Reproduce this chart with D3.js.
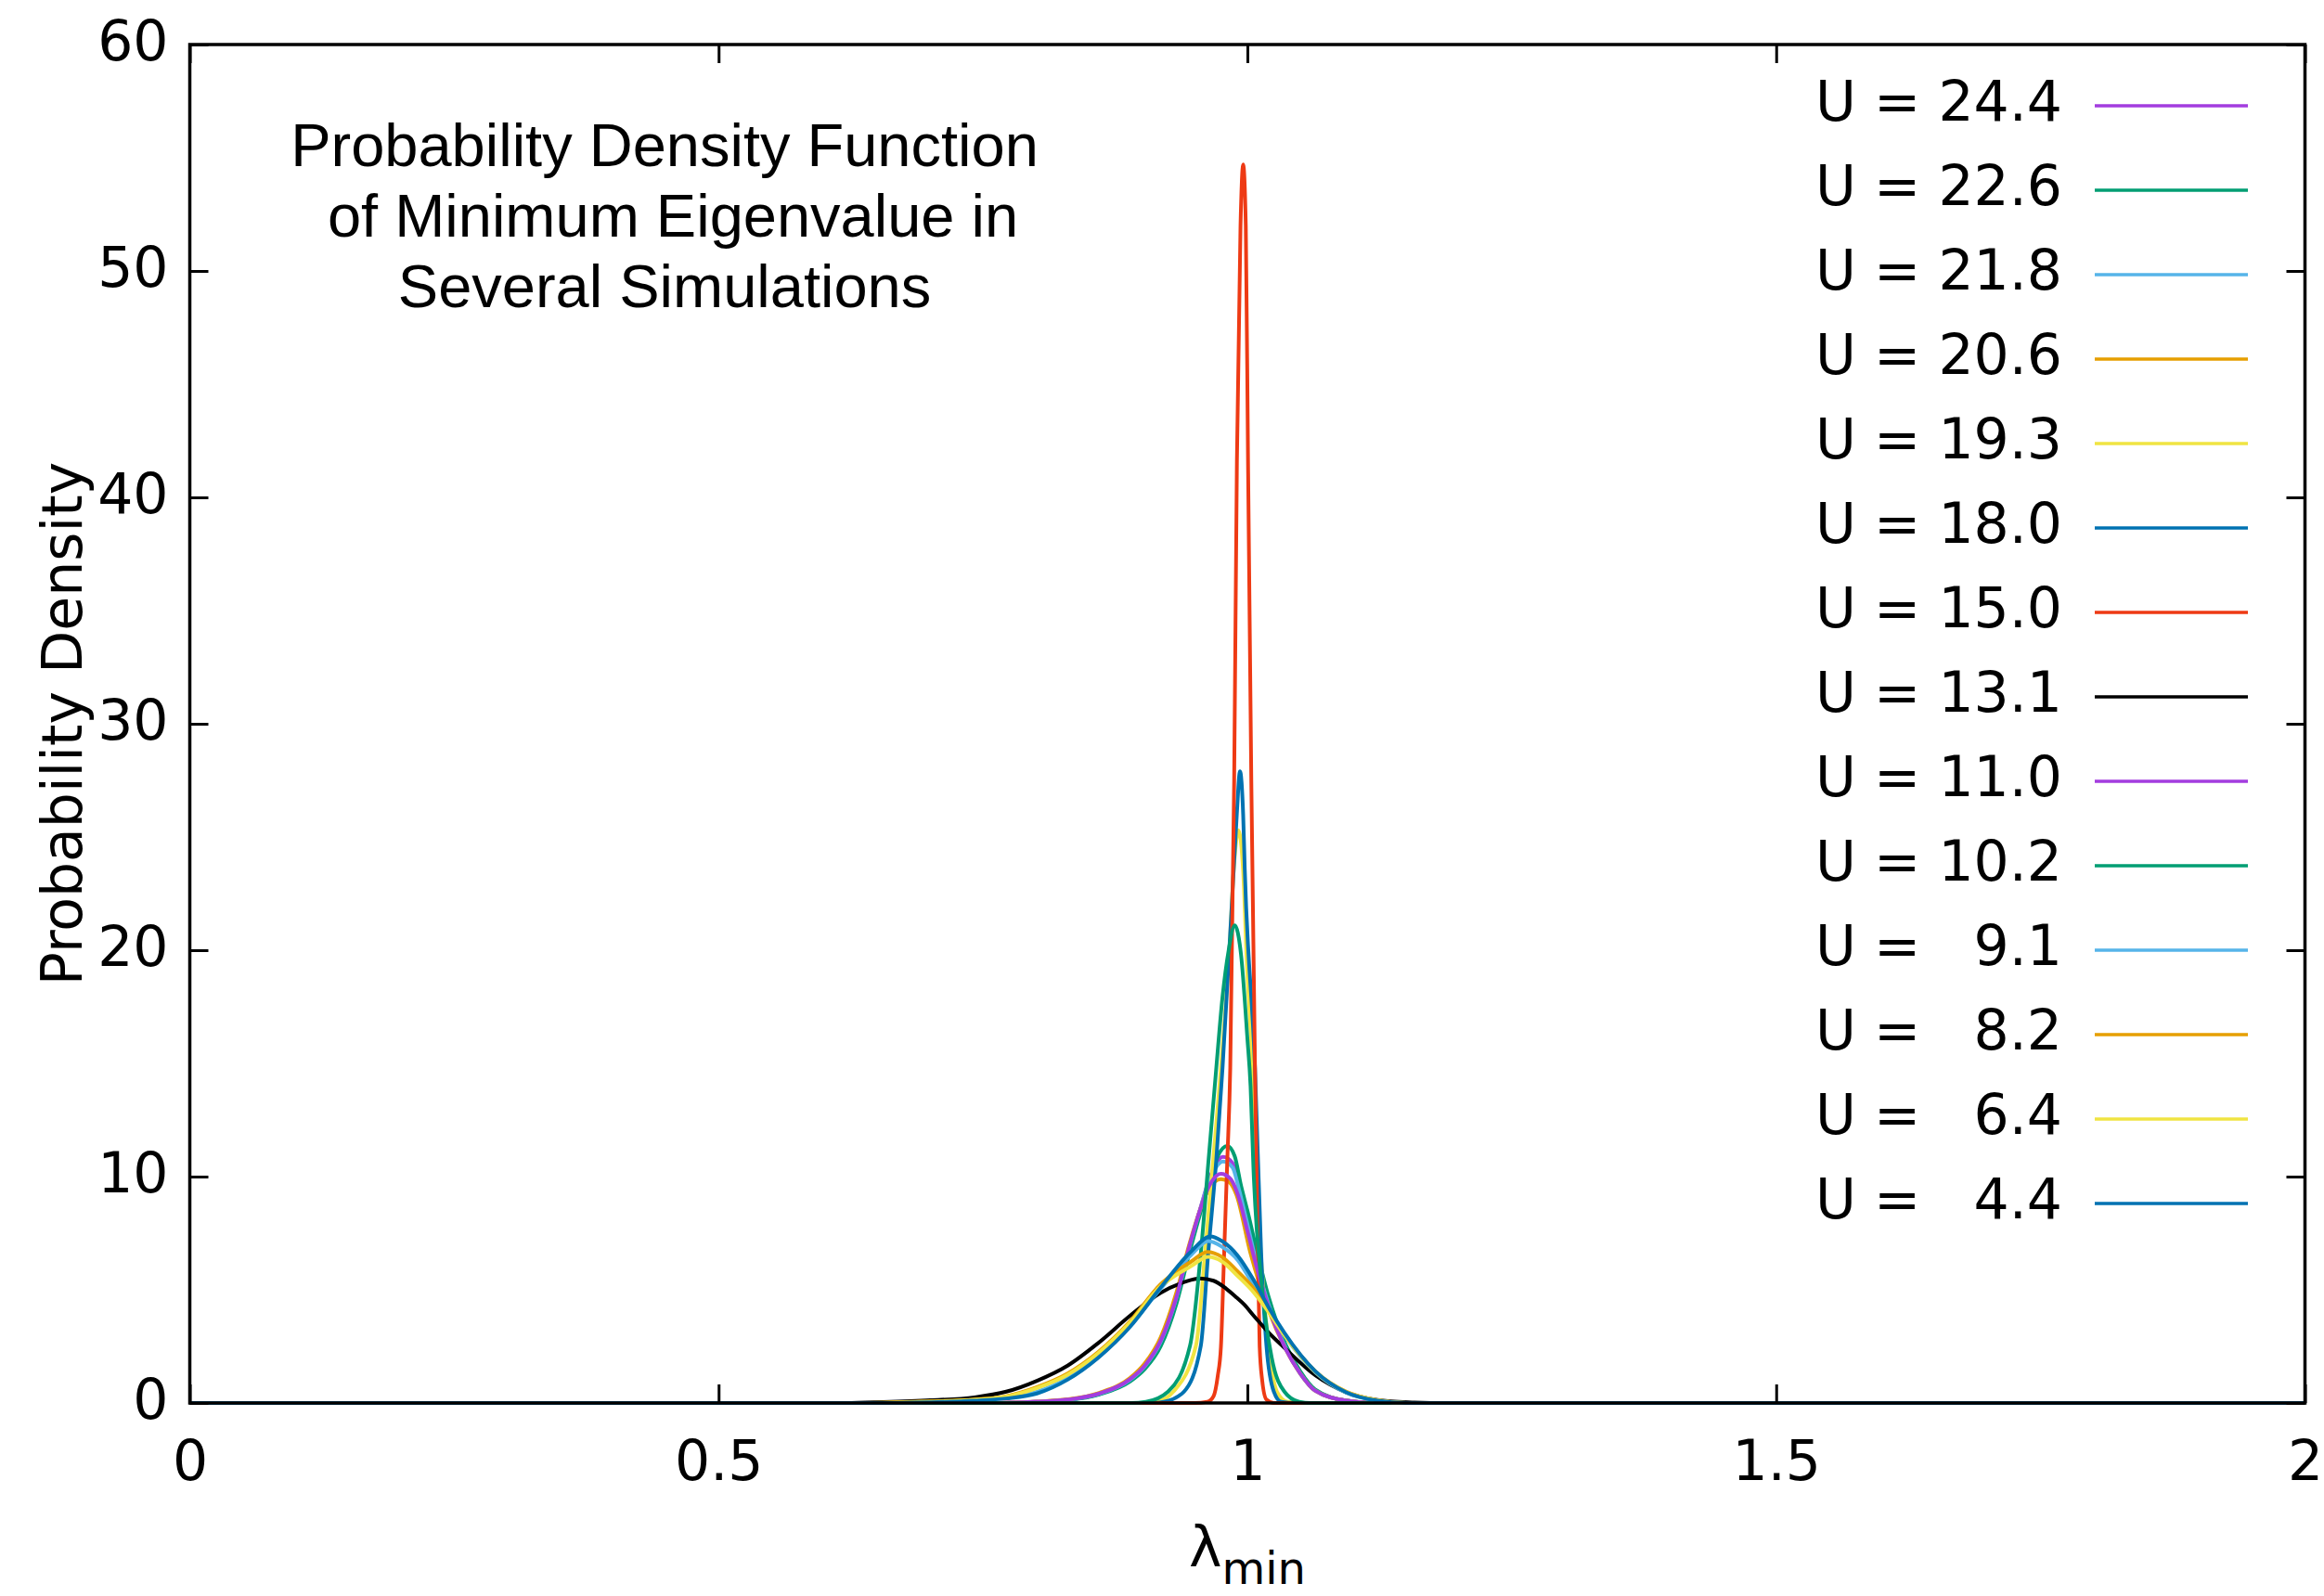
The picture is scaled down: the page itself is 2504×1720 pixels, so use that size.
<!DOCTYPE html>
<html>
<head>
<meta charset="utf-8">
<script src="https://cdn.jsdelivr.net/npm/d3@7"></script>
<style>
  body { margin: 0; background: #fff; }
</style>
</head>
<body>
<svg id="chart" width="2504" height="1720"></svg>
<script>
// U values of the simulations, legend order (top to bottom)
var uValues = [24.4, 22.6, 21.8, 20.6, 19.3, 18.0, 15.0, 13.1, 11.0, 10.2, 9.1, 8.2, 6.4, 4.4];

// density curves [lambda_min, pdf]
var u244 = [[0,0],[0.76,0],[0.80,0.05],[0.83,0.14],[0.86,0.40],[0.889,1.0],[0.903,1.6],[0.918,2.65],[0.933,4.6],[0.945,6.8],[0.955,8.5],[0.964,9.9],[0.977,10.87],[0.986,10.6],[0.992,9.6],[1.0,8.0],[1.0085,6.3],[1.02,4.4],[1.036,2.5],[1.05,1.35],[1.064,0.55],[1.094,0.1],[1.12,0],[2,0]];
var u226 = [[0,0],[0.78,0],[0.83,0.13],[0.86,0.38],[0.889,0.95],[0.903,1.5],[0.918,2.5],[0.933,4.4],[0.945,6.6],[0.955,8.3],[0.964,9.7],[0.972,10.9],[0.981,11.35],[0.988,10.9],[0.994,9.6],[1.0,8.5],[1.0085,6.8],[1.02,4.7],[1.036,2.6],[1.05,1.4],[1.064,0.6],[1.094,0.1],[1.12,0],[2,0]];
var u218 = [[0,0],[0.76,0],[0.80,0.05],[0.83,0.14],[0.86,0.41],[0.889,1.02],[0.903,1.62],[0.918,2.7],[0.933,4.65],[0.945,6.85],[0.955,8.5],[0.964,9.8],[0.977,10.67],[0.986,10.4],[0.992,9.45],[1.0,7.9],[1.0085,6.2],[1.02,4.35],[1.036,2.45],[1.05,1.3],[1.064,0.55],[1.094,0.1],[1.12,0],[2,0]];
var u206 = [[0,0],[0.76,0],[0.80,0.06],[0.83,0.16],[0.86,0.45],[0.889,1.1],[0.903,1.75],[0.918,2.9],[0.933,4.9],[0.945,7.0],[0.955,8.5],[0.964,9.5],[0.975,9.89],[0.983,9.75],[0.9896,9.2],[1.0028,6.64],[1.02,4.1],[1.036,2.4],[1.05,1.3],[1.064,0.55],[1.094,0.1],[1.12,0],[2,0]];
var u193 = [[0,0],[0.90,0],[0.914,0.05],[0.93,0.5],[0.9514,2.54],[0.960,6.64],[0.9677,10.74],[0.975,14.8],[0.983,20.0],[0.987,23.5],[0.9915,25.3],[0.996,23.5],[0.999,20.0],[1.0048,14.8],[1.011,8.0],[1.020,2.54],[1.028,0.5],[1.038,0.05],[1.05,0],[2,0]];
var u180 = [[0,0],[0.91,0],[0.921,0.05],[0.94,0.5],[0.956,2.54],[0.963,6.64],[0.9706,10.74],[0.9765,14.8],[0.9849,21.7],[0.990,26.0],[0.993,27.9],[0.996,26.0],[0.9975,23.6],[1.0072,14.8],[1.013,6.64],[1.018,2.54],[1.025,0.5],[1.032,0.05],[1.045,0],[2,0]];
var u150 = [[0,0],[0.950,0],[0.962,0.05],[0.968,0.3],[0.972,1.2],[0.975,2.5],[0.978,6.6],[0.981,10.7],[0.9838,14.8],[0.9875,27.5],[0.9901,41.6],[0.9935,52.0],[0.996,54.7],[0.9985,52.0],[1.0006,41.6],[1.0037,27.5],[1.0072,14.8],[1.0085,10.7],[1.0100,6.6],[1.0116,2.5],[1.014,1.0],[1.018,0.15],[1.025,0],[2,0]];
var u131 = [[0,0],[0.62,0],[0.655,0.04],[0.70,0.12],[0.742,0.25],[0.772,0.5],[0.801,0.98],[0.830,1.65],[0.859,2.65],[0.889,3.85],[0.918,4.87],[0.941,5.35],[0.955,5.5],[0.968,5.4],[0.98,5.05],[0.99,4.65],[0.997,4.35],[1.006,3.85],[1.0145,3.4],[1.0203,3.1],[1.035,2.44],[1.0643,1.22],[1.0935,0.47],[1.1228,0.13],[1.152,0.03],[1.19,0],[2,0]];
var u110 = [[0,0],[0.76,0],[0.80,0.06],[0.83,0.15],[0.86,0.42],[0.889,1.05],[0.903,1.65],[0.918,2.75],[0.933,4.7],[0.945,6.9],[0.955,8.5],[0.964,9.6],[0.975,10.12],[0.984,9.9],[0.991,9.2],[1.0,7.6],[1.0085,6.05],[1.02,4.25],[1.036,2.4],[1.05,1.3],[1.064,0.55],[1.094,0.1],[1.12,0],[2,0]];
var u102 = [[0,0],[0.89,0],[0.904,0.05],[0.925,0.5],[0.9458,2.54],[0.956,6.64],[0.9633,10.74],[0.9706,14.8],[0.9764,17.9],[0.9823,20.0],[0.988,21.1],[0.994,19.8],[1.0,16.1],[1.003,14.0],[1.0057,10.4],[1.0145,4.8],[1.023,2.0],[1.035,0.5],[1.049,0.05],[1.06,0],[2,0]];
var u91  = [[0,0],[0.66,0],[0.70,0.04],[0.742,0.12],[0.772,0.25],[0.801,0.5],[0.830,1.1],[0.859,2.05],[0.889,3.4],[0.918,5.05],[0.947,6.55],[0.963,7.15],[0.976,6.9],[0.991,6.3],[1.0057,5.2],[1.0203,4.1],[1.035,3.0],[1.0643,1.35],[1.0935,0.45],[1.1228,0.1],[1.15,0],[2,0]];
var u82  = [[0,0],[0.64,0],[0.70,0.07],[0.742,0.15],[0.772,0.3],[0.801,0.7],[0.830,1.3],[0.859,2.25],[0.889,3.6],[0.918,5.25],[0.947,6.25],[0.962,6.67],[0.976,6.45],[0.991,5.8],[1.0057,5.07],[1.0203,4.1],[1.035,3.05],[1.0643,1.4],[1.0935,0.5],[1.1228,0.12],[1.15,0],[2,0]];
var u64  = [[0,0],[0.64,0],[0.70,0.06],[0.742,0.14],[0.772,0.28],[0.801,0.66],[0.830,1.25],[0.859,2.2],[0.889,3.55],[0.918,5.15],[0.947,6.05],[0.963,6.45],[0.976,6.25],[0.991,5.6],[1.0057,4.9],[1.0203,4.0],[1.035,3.0],[1.0643,1.38],[1.0935,0.48],[1.1228,0.12],[1.15,0],[2,0]];
var u44  = [[0,0],[0.66,0],[0.70,0.03],[0.742,0.1],[0.772,0.2],[0.801,0.42],[0.830,1.03],[0.859,2.0],[0.889,3.36],[0.918,5.1],[0.947,6.7],[0.965,7.36],[0.976,7.15],[0.991,6.5],[1.0057,5.45],[1.0203,4.2],[1.035,3.1],[1.0643,1.4],[1.0935,0.47],[1.1228,0.1],[1.15,0],[2,0]];

var curves = [u244, u226, u218, u206, u193, u180, u150, u131, u110, u102, u91, u82, u64, u44];

var xTicks = [0, 0.5, 1, 1.5, 2];
var yTicks = [0, 10, 20, 30, 40, 50, 60];
var titleLines = ["Probability Density Function", " of Minimum Eigenvalue in", "Several Simulations"];

// gnuplot style line colours, cycled
var colors = ["#a33ddf", "#009e73", "#56b4e9", "#e69f00", "#f0e442", "#0072b2", "#ee3a14", "#000000"];

var svg = d3.select("#chart");
svg.append("rect").attr("width", 2504).attr("height", 1720).attr("fill", "#fff");

// plot frame (don't use "top" as a global name, it clashes with window.top)
var plotL = 204.5, plotR = 2483.5, plotT = 48, plotB = 1512;

var x = d3.scaleLinear().domain([0, 2]).range([plotL, plotR]);
var y = d3.scaleLinear().domain([0, 60]).range([plotB, plotT]);

var line = d3.line()
  .x(function (d) { return x(d[0]); })
  .y(function (d) { return y(d[1]); })
  .curve(d3.curveMonotoneX);

// curves
svg.append("g").selectAll("path").data(curves).enter()
  .append("path")
    .attr("d", line)
    .attr("fill", "none")
    .attr("stroke", function (d, i) { return colors[i % colors.length]; })
    .attr("stroke-width", 4)
    .attr("stroke-linejoin", "round");

// axes, ticks pointing inwards on all four sides
function styleAxis(g) {
  g.select(".domain").remove();
  g.attr("font-family", "DejaVu Sans").attr("font-size", 60);
  g.selectAll(".tick line").attr("stroke", "#000").attr("stroke-width", 3);
  g.selectAll(".tick text").attr("fill", "#000");
}

svg.append("g")
  .attr("transform", "translate(0," + plotB + ")")
  .call(d3.axisBottom(x).tickValues(xTicks).tickSize(-20).tickPadding(40).tickFormat(d3.format("")))
  .call(styleAxis);

svg.append("g")
  .attr("transform", "translate(0," + plotT + ")")
  .call(d3.axisTop(x).tickValues(xTicks).tickSize(-20).tickFormat(""))
  .call(styleAxis);

svg.append("g")
  .attr("transform", "translate(" + plotL + ",0)")
  .call(d3.axisLeft(y).tickValues(yTicks).tickSize(-20).tickPadding(23))
  .call(styleAxis)
  .selectAll(".tick text").attr("dy", "0.28em");

svg.append("g")
  .attr("transform", "translate(" + plotR + ",0)")
  .call(d3.axisRight(y).tickValues(yTicks).tickSize(-20).tickFormat(""))
  .call(styleAxis);

// frame
svg.append("rect")
  .attr("x", plotL).attr("y", plotT)
  .attr("width", plotR - plotL).attr("height", plotB - plotT)
  .attr("fill", "none").attr("stroke", "#000").attr("stroke-width", 3.5);

// axis labels
svg.append("text")
  .attr("transform", "translate(88," + ((plotT + plotB) / 2) + ") rotate(-90)")
  .attr("text-anchor", "middle")
  .attr("font-family", "DejaVu Sans")
  .attr("font-size", 60)
  .text("Probability Density");

var xl = svg.append("text")
  .attr("x", (plotL + plotR) / 2).attr("y", 1688)
  .attr("text-anchor", "middle")
  .attr("font-family", "DejaVu Sans")
  .attr("font-size", 60);
xl.append("tspan").text("λ");
xl.append("tspan").attr("font-size", 48).attr("dy", 19).text("min");

// title inside the plot
svg.append("g").selectAll("text").data(titleLines).enter()
  .append("text")
    .attr("x", 716)
    .attr("y", function (d, i) { return 179 + i * 76; })
    .attr("text-anchor", "middle")
    .attr("font-family", "Liberation Sans")
    .attr("font-size", 65)
    .style("white-space", "pre")
    .text(function (d) { return d; });

// legend
var legend = svg.append("g").selectAll("g").data(uValues).enter()
  .append("g")
    .attr("transform", function (d, i) { return "translate(0," + (114 + i * 91) + ")"; });

legend.append("text")
  .attr("x", 2222).attr("y", 16)
  .attr("text-anchor", "end")
  .attr("font-family", "DejaVu Sans")
  .attr("font-size", 60)
  .style("white-space", "pre")
  .text(function (d) {
    var s = d.toFixed(1);
    return "U = " + (s.length < 4 ? "  " + s : s);
  });

legend.append("line")
  .attr("x1", 2257).attr("x2", 2422)
  .attr("stroke", function (d, i) { return colors[i % colors.length]; })
  .attr("stroke-width", 3.5);
</script>
</body>
</html>
